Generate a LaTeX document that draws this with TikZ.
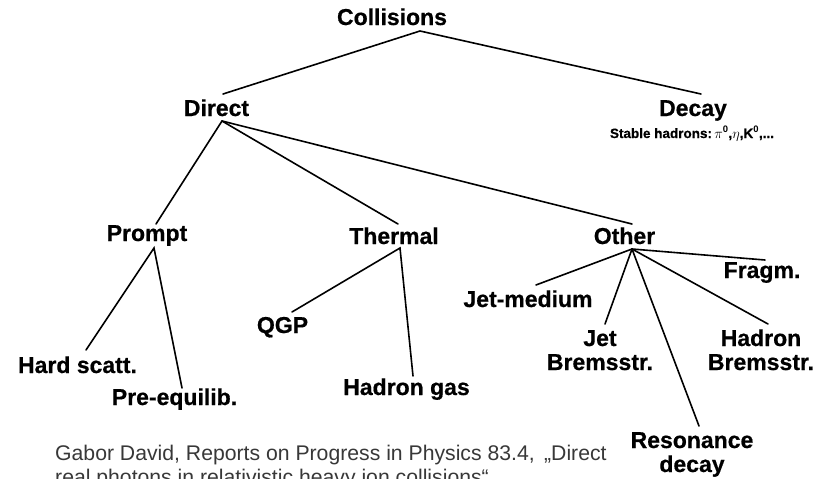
\documentclass[tikz,border=0pt]{standalone}
\usepackage{fontspec}
\setmainfont{Liberation Sans}
\newfontfamily\heavy{Liberation Sans}[BoldFeatures={FakeBold=0.6}]
\begin{document}
\begin{tikzpicture}[x=1pt,y=-1pt,
  lbl/.style={font=\heavy\bfseries\fontsize{23}{24}\selectfont, inner sep=0pt, anchor=base, align=center},
  small/.style={font=\heavy\bfseries\fontsize{13.5}{16}\selectfont, inner sep=0pt, anchor=base},
  captext/.style={font=\fontsize{21.2}{24}\selectfont, text=black!78, inner sep=0pt, anchor=base west, align=left},
  edge/.style={line width=1.6pt, line cap=round}]
\clip (0,0) rectangle (817,479);
\fill[white] (0,0) rectangle (817,479);

% labels (multi-line labels are anchored at the baseline of their last line)
\node[lbl] (coll) at (392,25) {Collisions};
\node[lbl] (direct) at (216.5,116) {Direct};
\node[lbl] (decay) at (693,116) {Decay};
\node[small] (stable) at (692,138) {Stable hadrons:\,$\pi^{\mathbf{0}}$,$\eta$,K$^{\mathbf{0}}$,...};
\node[lbl] (prompt) at (147,241) {Prompt};
\node[lbl] (thermal) at (394,244) {Thermal};
\node[lbl] (other) at (624.5,244) {Other};
\node[lbl] (hard) at (77.5,373) {Hard scatt.};
\node[lbl] (pre) at (174.5,405) {Pre-equilib.};
\node[lbl] (qgp) at (282.5,333) {QGP};
\node[lbl] (hgas) at (406.5,395) {Hadron gas};
\node[lbl] (jetmed) at (528,307) {Jet-medium};
\node[lbl] (fragm) at (762,278) {Fragm.};
\node[lbl] (jetbr) at (600,370) {Jet\\Bremsstr.};
\node[lbl] (hadbr) at (761,370) {Hadron\\Bremsstr.};
\node[lbl] (reso) at (692,472) {Resonance\\decay};
\node[captext] (caption) at (55,484) {Gabor David, Reports on Progress in Physics 83.4, \,„Direct\\real photons in relativistic heavy ion collisions“};

% connector end points
\coordinate (coll-b) at (420,31);
\coordinate (direct-t) at (223,94);
\coordinate (decay-t) at (701,94);
\coordinate (direct-b) at (222,121);
\coordinate (prompt-t) at (156,224);
\coordinate (thermal-t) at (398,224);
\coordinate (other-t) at (632,224);
\coordinate (prompt-b) at (154,248);
\coordinate (hard-t) at (86,350);
\coordinate (pre-t) at (182,388);
\coordinate (thermal-b) at (400,248);
\coordinate (qgp-t) at (292,312);
\coordinate (hgas-t) at (413,376);
\coordinate (other-b) at (632,249);
\coordinate (jetmed-t) at (536,285);
\coordinate (fragm-t) at (765,260);
\coordinate (jetbr-t) at (605,324);
\coordinate (reso-t) at (699,426);
\coordinate (hadbr-t) at (768,324);

\draw[edge] (direct-t) -- (coll-b) -- (decay-t);
\draw[edge] (direct-b) -- (prompt-t);
\draw[edge] (direct-b) -- (thermal-t);
\draw[edge] (direct-b) -- (other-t);
\draw[edge] (hard-t) -- (prompt-b) -- (pre-t);
\draw[edge] (qgp-t) -- (thermal-b) -- (hgas-t);
\draw[edge] (other-b) -- (jetmed-t);
\draw[edge] (other-b) -- (fragm-t);
\draw[edge] (other-b) -- (jetbr-t);
\draw[edge] (other-b) -- (reso-t);
\draw[edge] (other-b) -- (hadbr-t);
\end{tikzpicture}
\end{document}
